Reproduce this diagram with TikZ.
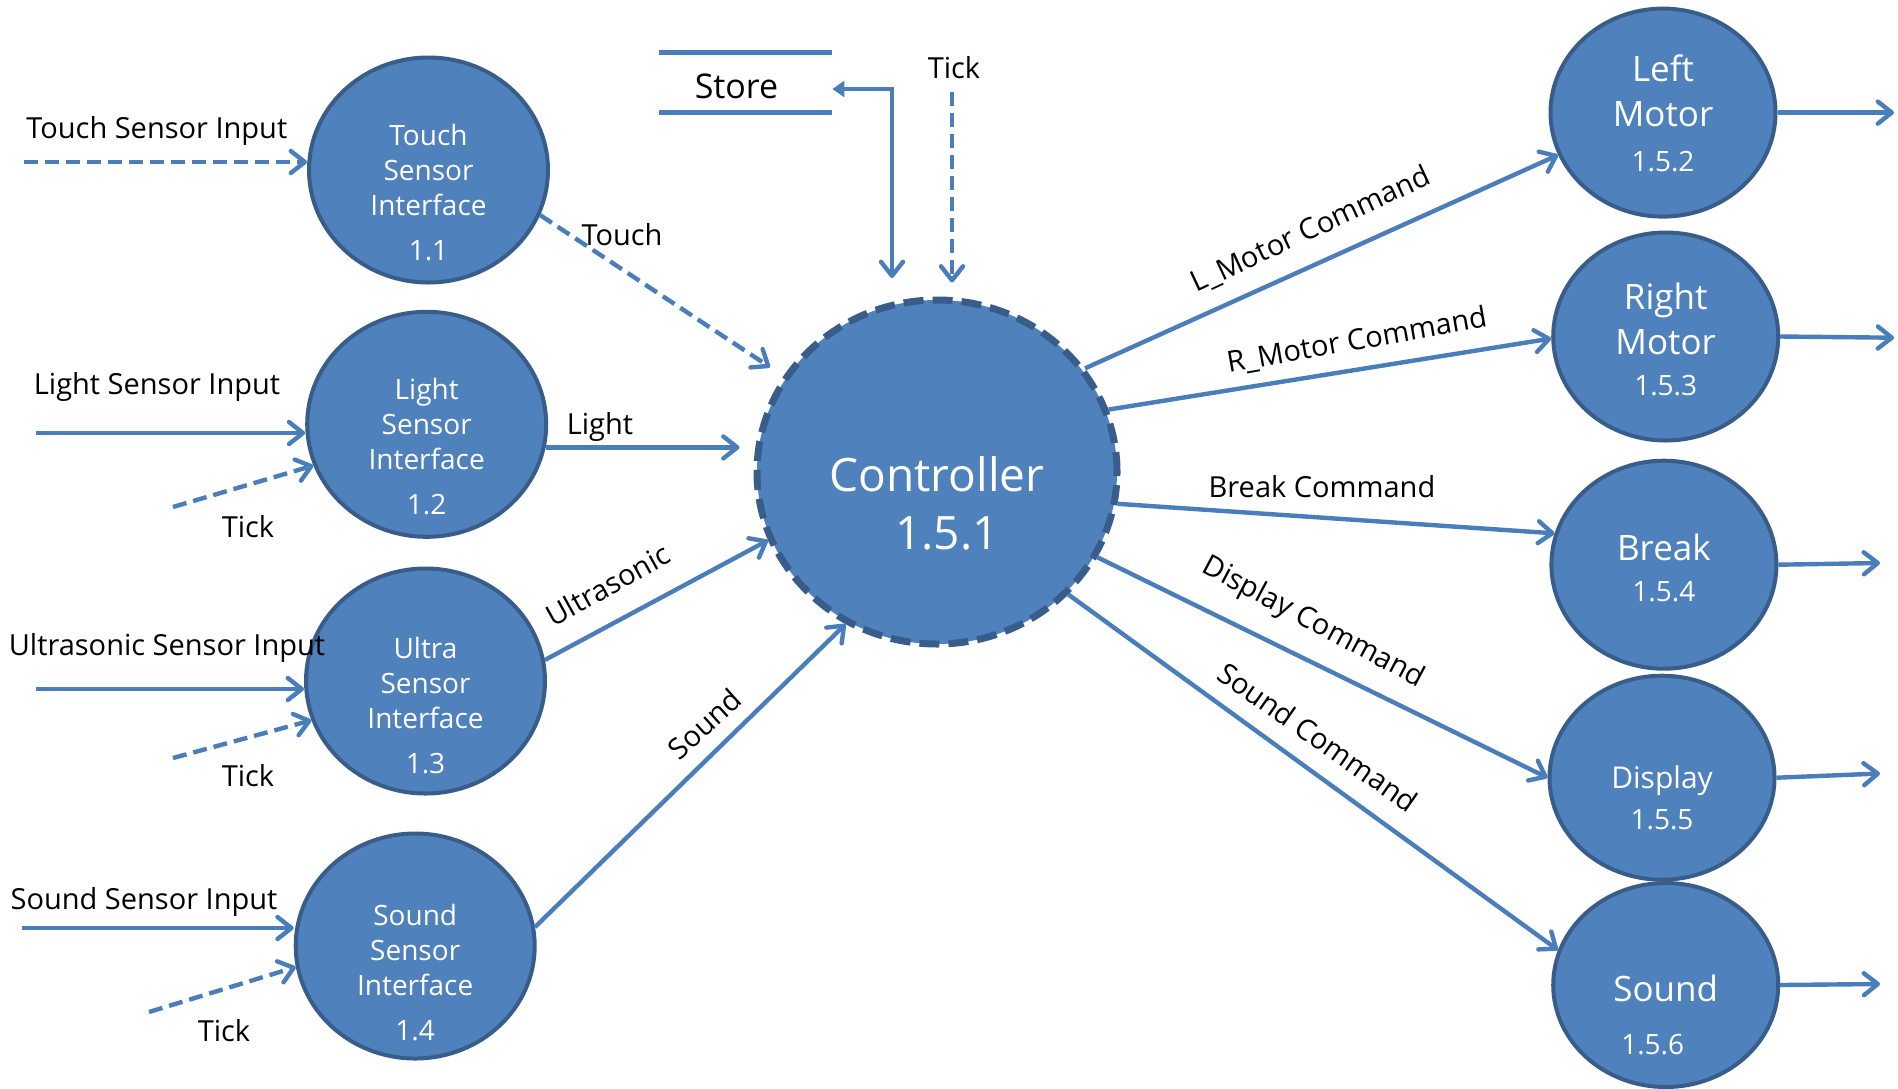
\documentclass[tikz,border=0pt]{standalone}
\usepackage{fontspec}
\setmainfont{Open Sans}
\usetikzlibrary{shapes.geometric,arrows.meta}

\definecolor{procfill}{HTML}{4F81BD}
\definecolor{procline}{HTML}{385D8A}
\definecolor{flowcol}{HTML}{4A7EBB}

\tikzset{
  proc/.style={ellipse, draw=procline, fill=procfill, line width=2pt, inner sep=0pt},
  ifbox/.style={proc, minimum width=119.5pt, minimum height=112.5pt},
  outbox/.style={proc, minimum width=112.5pt, minimum height=104pt},
  intext/.style={text=white, align=center, inner sep=0pt, font=\fontsize{14}{17.5}\selectfont},
  outtext/.style={intext, font=\fontsize{17.5}{22.5}\selectfont},
  flow/.style={draw=flowcol, line width=2.2pt, ->},
  tickflow/.style={flow, dash pattern=on 7pt off 3.5pt},
  lbl/.style={inner sep=0pt, font=\fontsize{14.5}{17}\selectfont},
}

\begin{document}
\begin{tikzpicture}[x=0.5pt, y=-0.5pt, >={Straight Barb[length=7pt,width=11pt,round]}]
\useasboundingbox (0,0) rectangle (1898,1088);

% sensor interfaces
\node[ifbox] (touchif) at (428.5,170) {};
\node[intext] (touchif-t) at ([yshift=-11.5pt]touchif) {Touch\\Sensor\\Interface\\[5pt]1.1};
\node[ifbox] (lightif) at (426.7,424.3) {};
\node[intext] (lightif-t) at ([yshift=-11.2pt]lightif) {Light\\Sensor\\Interface\\[5pt]1.2};
\node[ifbox] (ultraif) at (425.5,681) {};
\node[intext] (ultraif-t) at ([yshift=-12.4pt]ultraif) {Ultra\\Sensor\\Interface\\[5pt]1.3};
\node[ifbox] (soundif) at (415.2,946) {};
\node[intext] (soundif-t) at ([yshift=-13.3pt]soundif) {Sound\\Sensor\\Interface\\[5pt]1.4};

% controller
\node[proc, minimum width=180pt, minimum height=172pt, line width=3.5pt,
      dash pattern=on 10pt off 4.5pt] (ctrl) at (937,472) {};
\node[intext, font=\fontsize{23}{29}\selectfont] (ctrl-t) at ([yshift=-15.5pt]ctrl) {Controller\\\hspace*{10pt}1.5.1};

% actuators
\node[outbox] (lmotor) at (1663,112.6) {};
\node[outtext] (lmotor-t) at ([yshift=-0.6pt]lmotor) {Left\\Motor\\{\fontsize{14}{17}\selectfont 1.5.2}};
\node[outbox] (rmotor) at (1665.7,336.5) {};
\node[outtext] (rmotor-t) at ([yshift=-1.5pt]rmotor) {Right\\Motor\\[-2pt]{\fontsize{14}{17}\selectfont 1.5.3}};
\node[outbox] (brk) at (1663.9,564.7) {};
\node[outtext] (brk-t) at ([yshift=-1.5pt]brk) {Break\\[-2pt]{\fontsize{14}{17}\selectfont 1.5.4}};
\node[outbox, minimum height=102pt] (disp) at (1662,777.7) {};
\node[outtext, font=\fontsize{15}{20.5}\selectfont] (disp-t) at ([yshift=-10pt]disp) {Display\\{\fontsize{14}{17}\selectfont 1.5.5}};
\node[outbox, minimum height=102pt] (sndo) at (1665.7,985) {};
\node[outtext, font=\fontsize{17.5}{26.5}\selectfont] (sndo-t) at ([yshift=-15pt]sndo) {Sound\\{\fontsize{14}{17}\selectfont 1.5.6\hspace*{13pt}}};

% store
\node[lbl, font=\fontsize{17}{20}\selectfont, text height=16.5pt, text depth=0pt,
      minimum width=86.5pt, minimum height=29.5pt] (store) at (745.5,82.2) {Store\hspace*{9pt}};
\draw[flowcol, line width=2.6pt] (store.north west) -- (store.north east);
\draw[flowcol, line width=2.6pt] (store.south west) -- (store.south east);

% free ends
\coordinate (touchin) at (24,162);
\coordinate (lightin) at (36,433);
\coordinate (lighttk) at (173,507);
\coordinate (ultrain) at (36,689);
\coordinate (ultratk) at (173,758);
\coordinate (soundin) at (22,928);
\coordinate (soundtk) at (149,1012);
\coordinate (storein) at (892,278);
\coordinate (ctrltk) at (952,92);
\coordinate (lmout) at (1894,112.6);
\coordinate (rmout) at (1894,337.7);
\coordinate (brkout) at (1880,563);
\coordinate (dispout) at (1880,773.5);
\coordinate (sndout) at (1880,984);

% inputs
\draw[tickflow] (touchin) -- (touchin -| touchif.west);
\draw[flow] (lightin) -- (lightin -| lightif.west);
\draw[tickflow] (lighttk) -- (lightif.200);
\draw[flow] (ultrain) -- (ultrain -| ultraif.west);
\draw[tickflow] (ultratk) -- (ultraif.199);
\draw[flow] (soundin) -- (soundin -| soundif.west);
\draw[tickflow] (soundtk) -- (soundif.190);

% into controller
\draw[tickflow, shorten >=8pt] (touchif.-22) -- (ctrl.148);
\draw[flow, shorten >=7pt] (lightif.-11) -- (lightif.-11 -| ctrl.west);
\draw[flow] (ultraif.10) -- (ctrl.202.5);
\draw[flow] (soundif.9.5) -- (ctrl.239);
\draw[tickflow, shorten >=7pt] (ctrltk) -- (ctrltk |- ctrl.north);
\draw[flow, {Straight Barb[length=7pt,width=11pt,round]}-{Triangle[length=6pt,width=8pt]}] (storein) |- ([yshift=-3.4pt]store.east);

% out of controller
\draw[flow] (ctrl.35) -- (lmotor.202);
\draw[flow] (ctrl.20) -- (rmotor.181);
\draw[flow] (ctrl.-10) -- (brk.164);
\draw[flow] (ctrl.-28) -- (disp.180);
\draw[flow] (ctrl.-43) -- (sndo.162);

% outputs
\draw[flow] (lmotor.east) -- (lmout);
\draw[flow] (rmotor.east) -- (rmout);
\draw[flow] (brk.east) -- (brkout);
\draw[flow] (disp.east) -- (dispout);
\draw[flow] (sndo.east) -- (sndout);

% labels
\node[lbl] (touchin-l) at (156.8,130.7) {Touch Sensor Input};
\node[lbl] (lightin-l) at (157,387) {Light Sensor Input};
\node[lbl] (ultrain-l) at (167,647.6) {Ultrasonic Sensor Input};
\node[lbl] (soundin-l) at (144,902) {Sound Sensor Input};
\node[lbl] (lighttk-l) at (248,526.5) {Tick};
\node[lbl] (ultratk-l) at (248,776) {Tick};
\node[lbl] (soundtk-l) at (224,1031) {Tick};
\node[lbl] (ctrltk-l) at (954,67.8) {Tick};
\node[lbl] (touch-l) at (622,235) {Touch};
\node[lbl] (light-l) at (600,427) {Light};
\node[lbl, rotate=29] (ultra-l) at (607.7,584.7) {Ultrasonic};
\node[lbl, rotate=42] (sound-l) at (704.5,724) {Sound};
\node[lbl, rotate=25] (lmcmd-l) at (1311,230) {L\_Motor Command};
\node[lbl, rotate=10] (rmcmd-l) at (1357,341) {R\_Motor Command};
\node[lbl] (brkcmd-l) at (1322,487) {Break Command};
\node[lbl, rotate=-28] (dispcmd-l) at (1313,623) {Display Command};
\node[lbl, rotate=-35] (sndcmd-l) at (1318,737) {Sound Command};
\end{tikzpicture}
\end{document}
